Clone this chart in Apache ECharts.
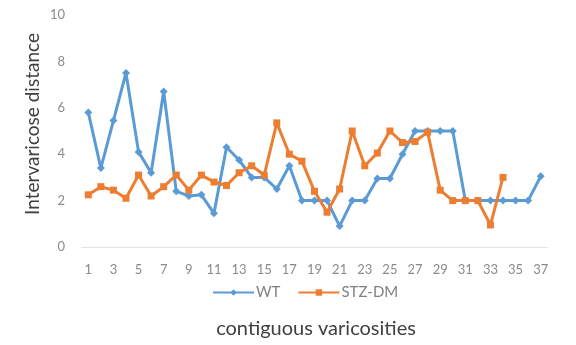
<!DOCTYPE html>
<html>
<head>
<meta charset="utf-8">
<script src="https://cdn.jsdelivr.net/npm/echarts@6/dist/echarts.min.js"></script>
<style>html,body{margin:0;padding:0;background:#fff}#c{width:576px;height:345px}</style>
</head>
<body>
<div id="c"></div>
<script>
const categories = Array.from({length: 37}, (_, i) => String(i + 1));
const wtValues = [5.8, 3.4, 5.45, 7.5, 4.1, 3.2, 6.7, 2.4, 2.2, 2.25, 1.45, 4.3, 3.75, 3.0, 3.0, 2.5, 3.5, 2.0, 2.0, 2.0, 0.9, 2.0, 2.0, 2.95, 2.95, 4.0, 5.0, 5.0, 5.0, 5.0, 2.0, 2.0, 2.0, 2.0, 2.0, 2.0, 3.05];
const stzValues = [2.25, 2.6, 2.45, 2.1, 3.1, 2.2, 2.6, 3.1, 2.45, 3.1, 2.8, 2.65, 3.2, 3.5, 3.1, 5.35, 4.0, 3.7, 2.4, 1.5, 2.5, 5.0, 3.5, 4.05, 5.0, 4.5, 4.55, 4.95, 2.45, 2.0, 2.0, 2.0, 0.95, 3.0];
const yTicks = [0, 2, 4, 6, 8, 10];
const seriesNames = ['WT', 'STZ-DM'];
const yTitle = 'Intervaricose distance';
const xTitle = 'contiguous varicosities';
const FONT = 'Lato, "Open Sans", sans-serif';

const chart = echarts.init(document.getElementById('c'), null, {renderer: 'canvas'});
chart.setOption({
  animation: false,
  backgroundColor: '#ffffff',
  grid: {left: 82, right: 29, top: 15, bottom: 98, containLabel: false},
  graphic: [
    {
      type: 'text', x: 33, y: 124, rotation: Math.PI / 2,
      style: {text: yTitle, fontFamily: FONT, fontSize: 19, fill: '#404040', align: 'center', verticalAlign: 'middle'}
    },
    {
      type: 'text', x: 316, y: 329,
      style: {text: xTitle, fontFamily: FONT, fontSize: 20, fill: '#404040', align: 'center', verticalAlign: 'middle'}
    }
  ],
  legend: {
    data: seriesNames,
    top: 280, left: 207,
    itemWidth: 41, itemHeight: 8, itemGap: 17,
    textStyle: {fontFamily: FONT, fontSize: 15, color: '#808080', padding: [0, 0, 0, -3]}
  },
  xAxis: {
    type: 'category',
    data: categories,
    boundaryGap: true,
    axisLine: {show: true, lineStyle: {color: '#e3e3e3', width: 1}},
    axisTick: {show: false},
    axisLabel: {interval: 1, fontFamily: FONT, fontSize: 13, color: '#8a8a8a', margin: 16}
  },
  yAxis: {
    type: 'value',
    min: yTicks[0], max: yTicks[yTicks.length - 1], interval: 2,
    axisLine: {show: false},
    axisTick: {show: false},
    splitLine: {show: false},
    axisLabel: {fontFamily: FONT, fontSize: 13, color: '#8a8a8a', margin: 17}
  },
  series: [
    {
      name: seriesNames[0], type: 'line', data: wtValues,
      symbol: 'diamond', symbolSize: 8,
      lineStyle: {color: '#5b9bd5', width: 3},
      itemStyle: {color: '#5b9bd5'}
    },
    {
      name: seriesNames[1], type: 'line', data: stzValues,
      symbol: 'rect', symbolSize: 7,
      lineStyle: {color: '#ed7d31', width: 3},
      itemStyle: {color: '#ed7d31'}
    }
  ]
});
</script>
</body>
</html>
